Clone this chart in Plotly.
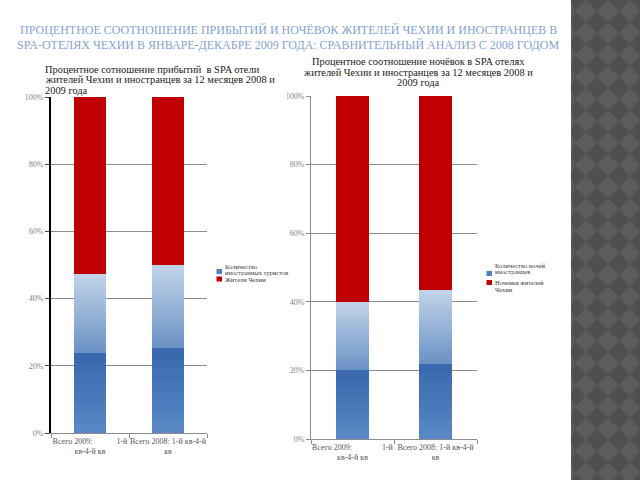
import plotly.graph_objects as go

# ---- data ----
categories = ["Всего 2009: 1-й кв-4-й кв", "Всего 2008: 1-й кв-4-й кв"]
tick_text_left = ["Всего 2009:            1-й<br>кв-4-й кв", "Всего 2008: 1-й кв-4-й<br>кв"]
tick_text_right = ["Всего 2009:               1-й<br>кв-4-й кв", "Всего 2008: 1-й кв-4-й<br>кв"]
arrivals_foreign = [47.3, 50.0]
arrivals_czech = [52.7, 50.0]
nights_foreign = [40.0, 43.5]
nights_czech = [60.0, 56.5]

title_lines = ["ПРОЦЕНТНОЕ СООТНОШЕНИЕ ПРИБЫТИЙ И НОЧЁВОК ЖИТЕЛЕЙ ЧЕХИИ И ИНОСТРАНЦЕВ В",
               "SPA-ОТЕЛЯХ ЧЕХИИ В ЯНВАРЕ-ДЕКАБРЕ 2009 ГОДА: СРАВНИТЕЛЬНЫЙ АНАЛИЗ С 2008 ГОДОМ"]
left_title_lines = ["Процентное сотношение прибытий  в SPA отели",
                    "жителей Чехии и иностранцев за 12 месяцев 2008 и", "2009 года"]
right_title_lines = ["Процентное соотношение ночёвок в SPA отелях",
                     "жителей Чехии и иностранцев за 12 месяцев 2008 и", "2009 года"]
left_names = [["Количество", "иностранных туристов"], ["Жители Чехии"]]
right_names = [["Количество ночей", "иностранцев"], ["Ночевки жителей", "Чехии"]]

# ---- style ----
SERIF = "Liberation Serif, Times New Roman, serif"
RED = "#c00000"
DARK_FRAC = 0.505


def ramp(c0, c1, n):
    a = [int(c0[i:i + 2], 16) for i in (1, 3, 5)]
    b = [int(c1[i:i + 2], 16) for i in (1, 3, 5)]
    out = []
    for k in range(n):
        t = k / (n - 1)
        out.append("#" + "".join(f"{round(a[m] + (b[m] - a[m]) * t):02x}" for m in range(3)))
    return out


dark_cols = ramp("#5887c4", "#3a69af", 8)
light_cols = ramp("#6c94c6", "#c0d2e8", 18)

W, H = 640, 480


def px(x):
    return x / W


def py(y):
    return 1 - y / H


fig = go.Figure()


def add_stack(xa, ya, blue_vals, red_vals, names):
    segs = [(c, DARK_FRAC / len(dark_cols)) for c in dark_cols]
    segs += [(c, (1 - DARK_FRAC) / len(light_cols)) for c in light_cols]
    for c, f in segs:
        fig.add_trace(go.Bar(
            x=categories, y=[v * f for v in blue_vals],
            xaxis=xa, yaxis=ya, marker=dict(color=c, line=dict(width=0)),
            name=names[0][0], showlegend=False, hoverinfo="skip"))
    fig.add_trace(go.Bar(
        x=categories, y=red_vals, xaxis=xa, yaxis=ya,
        marker=dict(color=RED, line=dict(width=0)),
        name=names[1][0], showlegend=False, hoverinfo="skip"))


add_stack("x", "y", arrivals_foreign, arrivals_czech, left_names)
add_stack("x2", "y2", nights_foreign, nights_czech, right_names)

tickfont = dict(family=SERIF, size=8, color="#7f7f7f")
xfont = dict(family=SERIF, size=8, color="#555555")

common_y = dict(range=[0, 100], dtick=20, ticksuffix="%", showgrid=True,
                gridcolor="#8c8c8c", gridwidth=1, ticks="outside", ticklen=4,
                tickfont=tickfont, zeroline=False, fixedrange=True, automargin=False)
common_x = dict(type="category", showline=True, linecolor="#8c8c8c", linewidth=1,
                ticks="outside", ticklen=4, tickcolor="#8c8c8c", tickson="boundaries",
                tickfont=xfont, showgrid=False, fixedrange=True, tickangle=0,
                automargin=False)

# diamond decoration panel
px0 = 571
h = 11
parts = []
j = 0
while j * 2 * h - h <= H + h:
    cy = j * 2 * h
    i = 0
    while px0 + i * 2 * h - h <= W + h:
        cx = px0 + 4 + i * 2 * h
        pts = [(cx, cy - h), (cx + h, cy), (cx, cy + h), (cx - h, cy)]
        pts = [(max(px0, min(W, x)), y) for x, y in pts]
        parts.append("M" + " L".join(f"{px(x):.5f},{py(y):.5f}" for x, y in pts) + " Z")
        i += 1
    j += 1

shapes = [
    dict(type="rect", xref="paper", yref="paper", x0=px(px0), x1=1, y0=0, y1=1,
         fillcolor="#5c5c5c", line=dict(width=0), layer="below"),
    dict(type="path", xref="paper", yref="paper", path=" ".join(parts),
         fillcolor="#4f4f4f", line=dict(width=0), layer="below"),
]

annotations = []


def text(t, x, y, size, color, anchor="left"):
    annotations.append(dict(text=t, xref="paper", yref="paper", x=px(x), y=py(y),
                            xanchor=anchor, yanchor="middle", showarrow=False,
                            font=dict(family=SERIF, size=size, color=color)))


# main title
text(title_lines[0], 288, 30, 12, "#83a3d2", "center")
text(title_lines[1], 288, 45, 12, "#83a3d2", "center")
# subtitles
for t, y in zip(left_title_lines, [69, 80, 90.5]):
    text(t, 43, y, 10.4, "#1a1a1a")
for t, y in zip(right_title_lines, [61, 72, 83]):
    text(t, 418, y, 10.4, "#1a1a1a", "center")


# custom legends
def legend(x, sq_ys, line_ys, names):
    cols = ["#4f80be", RED]
    for k, nm in enumerate(names):
        y0 = sq_ys[k]
        shapes.append(dict(type="rect", xref="paper", yref="paper",
                           x0=px(x), x1=px(x + 5.5), y0=py(y0 + 5), y1=py(y0),
                           fillcolor=cols[k], line=dict(width=0)))
        for t, ly in zip(nm, line_ys[k]):
            text(t, x + 6, ly, 6.5, "#404040")


legend(216.5, [269, 276.5], [[266, 272.5], [279]], left_names)
legend(486.5, [271, 280], [[265, 271.5], [282.5, 289]], right_names)

fig.update_layout(
    width=W, height=H, margin=dict(l=0, r=0, t=0, b=0, autoexpand=False),
    paper_bgcolor="white", plot_bgcolor="white",
    barmode="stack", bargap=0.6, showlegend=False,
    xaxis=dict(domain=[px(51), px(207)], anchor="y", tickvals=categories,
               ticktext=tick_text_left, **common_x),
    yaxis=dict(domain=[py(433), py(97)], anchor="x", showline=True,
               linecolor="black", linewidth=2, tickcolor="#444444", **common_y),
    xaxis2=dict(domain=[px(311), px(477)], anchor="y2", tickvals=categories,
                ticktext=tick_text_right, **common_x),
    yaxis2=dict(domain=[py(439), py(96)], anchor="x2", showline=True,
                linecolor="#8c8c8c", linewidth=1, tickcolor="#8c8c8c", **common_y),
    shapes=shapes,
    annotations=annotations,
)

fig.write_html("out.html")
